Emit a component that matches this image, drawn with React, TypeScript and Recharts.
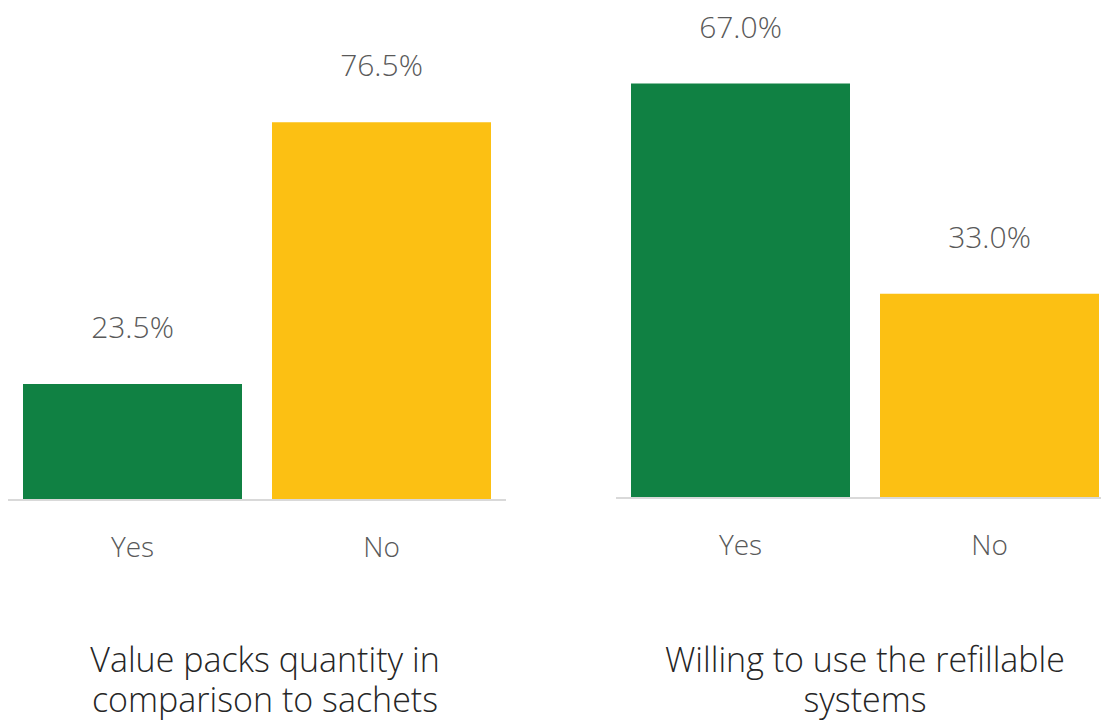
import { Bar, BarChart, Cell, LabelList, XAxis, YAxis } from 'recharts'

const categories = ['Yes', 'No']
const valuePacks = [23.5, 76.5]
const refillable = [67.0, 33.0]
const barColors = ['#108143', '#FCC013']
const titles = ['Value packs quantity in comparison to sachets', 'Willing to use the refillable systems']

const FONT = "'Open Sans', 'Noto Sans', sans-serif"

interface PanelProps {
  values: number[]
  left: number
  marginLeft: number
  marginTop: number
  marginBottom: number
  max: number
}

function Panel({ values, left, marginLeft, marginTop, marginBottom, max }: PanelProps) {
  const data = categories.map((c, i) => ({ name: c, value: values[i] }))
  return (
    <div style={{ position: 'absolute', left, top: 0 }}>
      <BarChart
        width={520}
        height={725}
        data={data}
        margin={{ top: marginTop, right: 520 - marginLeft - 498, bottom: marginBottom, left: marginLeft }}
        barCategoryGap={15}
      >
        <XAxis
          dataKey="name"
          height={30}
          axisLine={{ stroke: '#d9d9d9', strokeWidth: 2 }}
          tickLine={false}
          tickSize={0}
          tickMargin={37}
          tick={{ fill: '#595959', fontSize: 28, fontFamily: FONT, fontWeight: 300 }}
        />
        <YAxis hide domain={[0, max]} />
        <Bar dataKey="value" isAnimationActive={false}>
          {data.map((_, i) => (
            <Cell key={i} fill={barColors[i]} />
          ))}
          <LabelList
            dataKey="value"
            position="top"
            offset={46}
            formatter={(v: any) => `${Number(v).toFixed(1)}%`}
            style={{ fill: '#595959', fontSize: 30, fontFamily: FONT, fontWeight: 300 }}
          />
        </Bar>
      </BarChart>
    </div>
  )
}

const titleStyle = {
  position: 'absolute' as const,
  top: 639,
  textAlign: 'center' as const,
  fontFamily: FONT,
  fontWeight: 300,
  fontSize: 34,
  lineHeight: '40px',
  color: '#262626',
}

export default function App() {
  return (
    <div
      style={{
        position: 'absolute',
        left: 0,
        top: 0,
        width: 1101,
        height: 725,
        overflow: 'hidden',
        background: '#fff',
      }}
    >
      <Panel values={valuePacks} left={0} marginLeft={8} marginTop={105} marginBottom={195} max={80} />
      <Panel values={refillable} left={600} marginLeft={16} marginTop={65} marginBottom={197} max={70} />
      <div style={{ ...titleStyle, left: 78, width: 374 }}>{titles[0]}</div>
      <div style={{ ...titleStyle, left: 645, width: 440 }}>{titles[1]}</div>
    </div>
  )
}
